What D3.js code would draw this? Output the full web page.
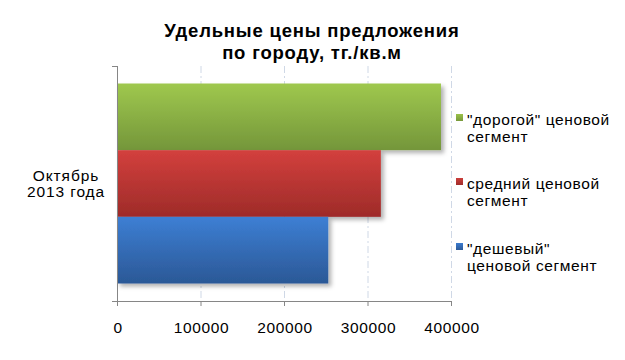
<!DOCTYPE html>
<html><head><meta charset="utf-8">
<script src="https://cdn.jsdelivr.net/npm/d3@7"></script>
<style>body{margin:0;background:#fff}svg{display:block}text{font-family:"Liberation Sans",Arial,sans-serif}</style>
</head><body>
<script>
const categories = ["Октябрь 2013 года"];
const seriesNames = ["\"дорогой\" ценовой сегмент", "средний ценовой сегмент", "\"дешевый\" ценовой сегмент"];
const seriesValues = [388000, 316000, 253000];
const tickValues = [0, 100000, 200000, 300000, 400000];
const legendLines = [["\"дорогой\" ценовой", "сегмент"], ["средний ценовой", "сегмент"], ["\"дешевый\"", "ценовой сегмент"]];
const titleLines = ["Удельные цены предложения", "по городу, тг./кв.м"];
const colors = [["#9fc84e", "#74963a"], ["#d3403d", "#9e2b29"], ["#3d7fd4", "#2b5896"]];
const squareColors = [["#9bc24a","#77993a"],["#cc3f3c","#a02c2a"],["#3b7bcf","#2d5a98"]];

const W = 625, H = 360;
const svg = d3.select("body").append("svg").attr("width", W).attr("height", H);
const defs = svg.append("defs");
colors.forEach((c, i) => {
  const g = defs.append("linearGradient").attr("id", "g" + i).attr("x1", 0).attr("y1", 0).attr("x2", 0).attr("y2", 1);
  g.append("stop").attr("offset", "0%").attr("stop-color", c[0]);
  g.append("stop").attr("offset", "100%").attr("stop-color", c[1]);
});
squareColors.forEach((c, i) => {
  const g = defs.append("linearGradient").attr("id", "s" + i).attr("x1", 0).attr("y1", 0).attr("x2", 0).attr("y2", 1);
  g.append("stop").attr("offset", "0%").attr("stop-color", c[0]);
  g.append("stop").attr("offset", "100%").attr("stop-color", c[1]);
});
const f = defs.append("filter").attr("id", "sh").attr("x", "-10%").attr("y", "-10%").attr("width", "130%").attr("height", "130%");
f.append("feDropShadow").attr("dx", 3).attr("dy", 3).attr("stdDeviation", 2).attr("flood-color", "#000").attr("flood-opacity", 0.3);

const x = d3.scaleLinear().domain([0, 400000]).range([117, 451]);
const yCat = d3.scaleBand().domain(categories).range([66, 301]);
const y = d3.scaleBand().domain(seriesNames).range([yCat.range()[0], yCat.range()[1]]).paddingInner(0).paddingOuter(0.2625);

// gridlines
svg.append("g").selectAll("line").data(tickValues.slice(1)).join("line")
  .attr("x1", d => x(d) + 0.5).attr("x2", d => x(d) + 0.5)
  .attr("y1", 66).attr("y2", 301)
  .attr("stroke", "#cfd8e6").attr("stroke-width", 1).attr("stroke-dasharray", "7,3,2,3");

// bars
svg.append("g").selectAll("rect").data(seriesValues).join("rect")
  .attr("x", x(0)).attr("y", (d, i) => y(seriesNames[i]))
  .attr("width", d => x(d) - x(0)).attr("height", y.bandwidth())
  .attr("fill", (d, i) => `url(#g${i})`).attr("filter", "url(#sh)");

// axes
const ax = svg.append("g").attr("stroke", "#868686").attr("stroke-width", 1);
ax.append("line").attr("x1", x(0)).attr("x2", x(400000) + 0.5).attr("y1", 301.5).attr("y2", 301.5);
ax.selectAll(".xt").data(tickValues).join("line").attr("class", "xt")
  .attr("x1", d => x(d) + 0.5).attr("x2", d => x(d) + 0.5).attr("y1", 301).attr("y2", 306);
ax.append("line").attr("x1", x(0) + 0.5).attr("x2", x(0) + 0.5).attr("y1", 66).attr("y2", 302);
ax.selectAll(".yt").data(yCat.range()).join("line").attr("class", "yt")
  .attr("x1", x(0) - 5).attr("x2", x(0)).attr("y1", d => d + 0.5).attr("y2", d => d + 0.5);

// tick labels
svg.append("g").selectAll("text").data(tickValues).join("text")
  .attr("x", d => x(d) + 1).attr("y", 333).attr("text-anchor", "middle")
  .attr("font-size", 15.5).attr("letter-spacing", 0.6).attr("fill", "#000").text(d => d);

// category label
const cl = svg.append("text").attr("text-anchor", "middle").attr("font-size", 15.5).attr("letter-spacing", 0.9).attr("fill", "#000");
const catParts = ["Октябрь", "2013 года"];
catParts.forEach((t, i) => cl.append("tspan").attr("x", 66).attr("y", yCat(categories[0]) + yCat.bandwidth() / 2 - 2.5 + i * 15.5).text(t));

// title
const tt = svg.append("text").attr("text-anchor", "middle").attr("font-size", 18.5).attr("letter-spacing", 0.8).attr("font-weight", "bold").attr("fill", "#000");
titleLines.forEach((t, i) => tt.append("tspan").attr("x", 312).attr("y", 37 + i * 22).text(t));

// legend
const lg = svg.append("g");
const legendY = [114, 178, 243];
legendLines.forEach((lines, i) => {
  lg.append("rect").attr("x", 456).attr("y", legendY[i]).attr("width", 7).attr("height", 7).attr("fill", `url(#s${i})`);
  const t = lg.append("text").attr("font-size", 15.5).attr("letter-spacing", 0.6).attr("fill", "#000");
  lines.forEach((l, j) => t.append("tspan").attr("x", 467).attr("y", legendY[i] + 10.5 + j * 17).text(l));
});
</script>
</body></html>
